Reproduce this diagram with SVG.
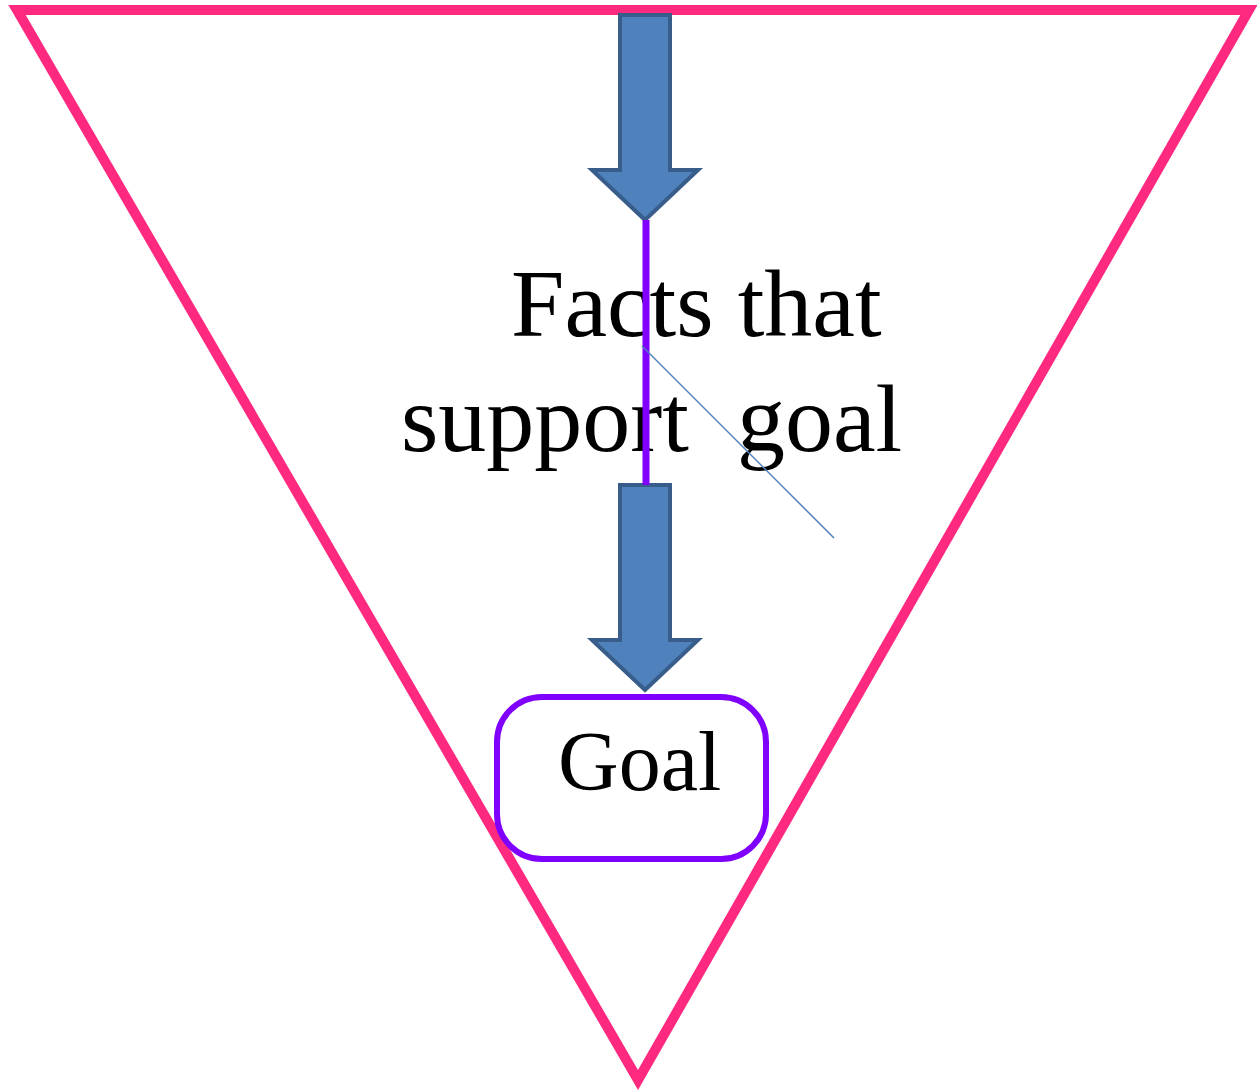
<svg xmlns="http://www.w3.org/2000/svg" width="1257" height="1091" viewBox="0 0 1257 1091">
<style>
.tri{fill:none;stroke:#FF2A80;stroke-width:10;stroke-linejoin:miter;stroke-miterlimit:10}
.arrow{fill:#4F81BD;stroke:#385D8A;stroke-width:4;stroke-linejoin:miter}
.t{font-family:"Liberation Serif","Times New Roman",serif;fill:#000;white-space:pre}
.box{fill:#fff;stroke:#8000FF;stroke-width:6}
</style>
<rect width="1257" height="1091" fill="#fff"/>
<g id="triangle">
<polygon class="tri" points="17,10 1249,10 638,1080"/>
</g>
<g id="arrow-top">
<path class="arrow" d="M620,15 H670 V170 H698 L645,220 L592,170 H620 Z"/>
</g>
<g id="arrow-bottom">
<path class="arrow" d="M620,485 H670 V640 H698 L645,690 L592,640 H620 Z"/>
</g>
<g id="facts">
<text class="t" x="511" y="336" font-size="96">Facts that</text>
<text class="t" x="401" y="451" font-size="96" xml:space="preserve">support  goal</text>
</g>
<g id="connectors">
<line x1="646" y1="220" x2="646" y2="485" stroke="#8000FF" stroke-width="7"/>
<line x1="642" y1="346" x2="834" y2="538" stroke="#4F81BD" stroke-width="1.5"/>
</g>
<g id="goal">
<rect class="box" x="497" y="697" width="269" height="162" rx="45" ry="45"/>
<text class="t" x="558" y="790" font-size="84">Goal</text>
</g>
</svg>
